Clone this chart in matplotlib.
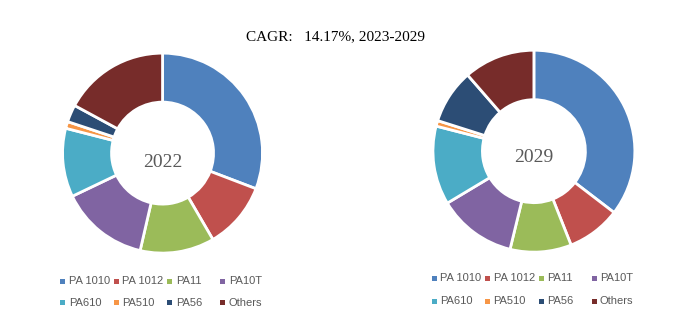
import matplotlib.pyplot as plt
from matplotlib.patches import Rectangle

# market share by type (percent)
types = ["PA 1010", "PA 1012", "PA11", "PA10T", "PA610", "PA510", "PA56", "Others"]
share_2022 = [30.8, 10.8, 12.0, 14.3, 11.1, 1.1, 2.8, 17.1]
share_2029 = [35.4, 8.6, 9.8, 12.6, 12.6, 0.9, 8.7, 11.4]
years = ["2022", "2029"]
title = "CAGR:   14.17%, 2023-2029"

colors = ["#4F81BD", "#C0504D", "#9BBB59", "#8064A2",
          "#4BACC6", "#F79646", "#2C4D75", "#772C2A"]
grey = "#595959"

fig = plt.figure(figsize=(6.97, 3.22), dpi=100)

# axes boxes in figure fraction: [left, bottom, width, height]
boxes = [[0.0897, 0.214, 0.287, 0.621], [0.621, 0.217, 0.290, 0.627]]
label_dy = [-0.09, -0.06]

for box, vals, yr, dy in zip(boxes, [share_2022, share_2029], years, label_dy):
    ax = fig.add_axes(box)
    ax.pie(vals, colors=colors, startangle=90, counterclock=False,
           radius=1.0, wedgeprops=dict(width=0.49, edgecolor="white", linewidth=2))
    ax.set_xlim(-1, 1)
    ax.set_ylim(-1, 1)
    ax.set_aspect("equal")
    ax.text(0, dy, yr, ha="center", va="center", fontsize=14,
            family="Liberation Serif", color=grey)

fig.text(336 / 697, 1 - 37 / 322, title, ha="center", va="center", fontsize=11,
         family="Liberation Serif", color="black")

# legends: two rows of four, fixed column spacing like the source
def draw_legend(x0, rows_y):
    W, H = 697.0, 322.0
    col_x = [x0, x0 + 53.5, x0 + 107, x0 + 160]
    for i, (name, c) in enumerate(zip(types, colors)):
        r, k = divmod(i, 4)
        x = col_x[k]
        y = rows_y[r]
        fig.add_artist(Rectangle(((x - 2.5) / W, 1 - (y + 2.5) / H), 5 / W, 5 / H,
                                 transform=fig.transFigure, facecolor=c, edgecolor="none"))
        fig.text((x + 6) / W, 1 - y / H, name, ha="left", va="center",
                 fontsize=8, family="Liberation Sans", color=grey)

draw_legend(62.7, [281, 302.5])
draw_legend(434, [278.3, 301])

fig.savefig("out.png", dpi=100)
